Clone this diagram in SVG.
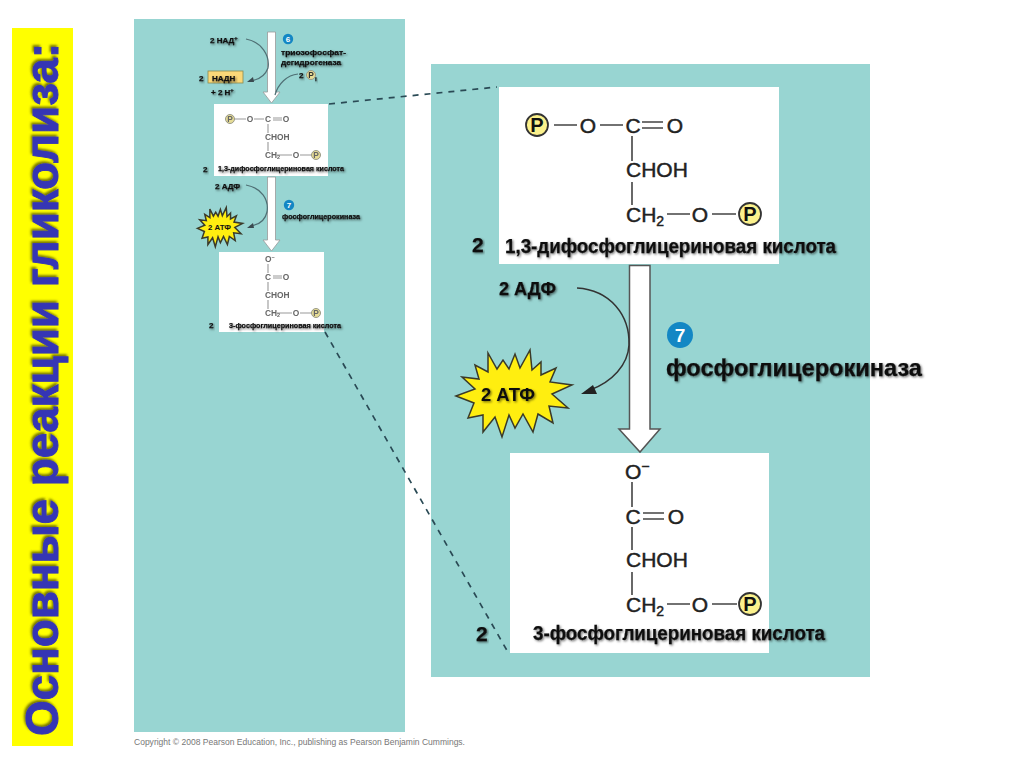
<svg xmlns="http://www.w3.org/2000/svg" width="1024" height="768" viewBox="0 0 1024 768">
<style>
text{font-family:"Liberation Sans",Arial,sans-serif;fill:#111}
.b{font-weight:700}
.lab{font-weight:700;filter:url(#sh);stroke:#111;stroke-width:.25}
.m{font-size:21px;fill:#222;stroke:#222;stroke-width:.45}
.ms{font-size:8.4px;fill:#666;font-weight:700;filter:url(#bl)}
.bond{stroke:#444;stroke-width:1.6;fill:none}
.bonds{stroke:#999;stroke-width:1.1;fill:none}
.p{fill:#fbf18c;stroke:#333;stroke-width:1.8}
.ps{fill:#e6dc96;stroke:#998;stroke-width:1}
.panel{fill:#98d5d2}
.box{fill:#fff}
.ar{fill:#fff;stroke:#555;stroke-width:1.5}
.ars{fill:#fff;stroke:#999;stroke-width:.8}
.cur{fill:none;stroke:#333;stroke-width:1.5}
.curs{fill:none;stroke:#4f6f74;stroke-width:1.2}
.num{fill:#1387c4}
.dash{fill:none;stroke:#2a4a55;stroke-width:1.7;stroke-dasharray:6 6}
.star{fill:#ffee10;stroke:#3a3a2a;stroke-width:1.5;vector-effect:non-scaling-stroke}
</style>
<defs>
<filter id="sh" x="-10%" y="-30%" width="120%" height="170%"><feDropShadow dx="1.2" dy="1.2" stdDeviation="0.9" flood-color="#000" flood-opacity=".55"/></filter>
<filter id="shb" x="-5%" y="-30%" width="110%" height="160%"><feDropShadow dx="2" dy="-1.5" stdDeviation="1.2" flood-color="#555500" flood-opacity=".8"/></filter>
<filter id="bl"><feGaussianBlur stdDeviation=".3"/></filter>
<polygon id="starshape" class="star" points="456,396 475,389 462,377 479,379 475,365 488,372 488,353 497,369 503,360 509,369 515,354 520,368 530,350 532,370 541,362 541,375 556,368 550,382 572,385 552,394 568,408 549,406 553,423 538,414 533,432 523,414 515,428 509,415 502,437 495,417 483,432 483,415 468,418 474,403"/>
</defs>

<g id="title-bar">
<rect x="12" y="28" width="61" height="718" fill="#ffff00"/>
<text class="b" transform="translate(58,736) rotate(-90)" font-size="46" textLength="693" lengthAdjust="spacingAndGlyphs" style="fill:#3535b5;stroke:#3535b5;stroke-width:.9;filter:url(#shb)">Основные реакции гликолиза:</text>
</g>

<g id="panels">
<rect class="panel" x="134" y="19" width="271" height="713"/>
<rect class="panel" x="431" y="64" width="439" height="613"/>
</g>

<g id="small-box-1">
<rect class="box" x="214" y="104" width="114" height="72"/>
<g class="bonds"><path d="M234,119H246M254,119H264M273,118H282M273,120H282M268,124V133M268,142V151M277,155H292M300,155H312"/></g>
<circle class="ps" cx="230" cy="119" r="4.5"/>
<text class="ms" x="230" y="122" text-anchor="middle">P</text>
<text class="ms" x="250" y="122" text-anchor="middle">O</text>
<text class="ms" x="268" y="122" text-anchor="middle">C</text>
<text class="ms" x="286" y="122" text-anchor="middle">O</text>
<text class="ms" x="265" y="140">CHOH</text>
<text class="ms" x="265" y="158">CH<tspan font-size="5.5" dy="1">2</tspan></text>
<text class="ms" x="296" y="158" text-anchor="middle">O</text>
<circle class="ps" cx="316" cy="155" r="4.5"/>
<text class="ms" x="316" y="158" text-anchor="middle">P</text>
<text class="lab" x="218" y="171" font-size="8" textLength="126" lengthAdjust="spacingAndGlyphs">1,3-дифосфоглицериновая кислота</text>
<text class="lab" x="203" y="172" font-size="8">2</text>
</g>

<g id="small-box-2">
<rect class="box" x="219" y="252" width="105" height="80"/>
<g class="bonds"><path d="M268,264V273M273,276H282M273,278H282M268,282V291M268,300V309M277,313H292M300,313H312"/></g>
<text class="ms" x="265" y="262">O<tspan font-size="5.5" dy="-3">−</tspan></text>
<text class="ms" x="268" y="280" text-anchor="middle">C</text>
<text class="ms" x="286" y="280" text-anchor="middle">O</text>
<text class="ms" x="265" y="298">CHOH</text>
<text class="ms" x="265" y="316">CH<tspan font-size="5.5" dy="1">2</tspan></text>
<text class="ms" x="296" y="316" text-anchor="middle">O</text>
<circle class="ps" cx="316" cy="313" r="4.5"/>
<text class="ms" x="316" y="316" text-anchor="middle">P</text>
<text class="lab" x="229" y="328" font-size="8" textLength="112" lengthAdjust="spacingAndGlyphs">3-фосфоглицериновая кислота</text>
<text class="lab" x="209" y="328" font-size="8">2</text>
</g>

<g id="connectors">
<path class="dash" d="M329,104L497,87"/>
<path class="dash" d="M325,332L509,654"/>
<path class="ars" d="M267.500,32H275.500V92H280L271.500,103L263,92H267.500Z"/>
<path class="ars" d="M267.500,177H275.500V240H280L271.500,251L263,240H267.500Z"/>
<path class="curs" d="M246,39C262,42 270,56 268,68C265,76 258,80 250,81"/>
<path fill="#3a4a50" d="M247,82L253,77L254,82Z"/>
<path class="curs" d="M298,74C287,75 278,84 275,95"/>
<path class="curs" d="M246,185C262,188 269,200 267,212C265,221 258,225 250,226"/>
<path fill="#3a4a50" d="M247,228L253,223L254,228Z"/>
<path class="ar" d="M629.500,265.500H650V429H660L640,452L619,429H629.500Z"/>
<path class="cur" d="M577,288C610,290 630,315 629,345C628,365 612,382 590,390"/>
<path fill="#222" d="M581,394L593,385L597,394Z"/>
</g>

<g id="small-reaction-6">
<circle class="num" cx="288" cy="39" r="5.200"/>
<text class="b" x="288" y="42" font-size="8" text-anchor="middle" style="fill:#fff">6</text>
<text class="lab" x="281" y="55" font-size="8" textLength="65" lengthAdjust="spacingAndGlyphs">триозофосфат-</text>
<text class="lab" x="281" y="65" font-size="8" textLength="60" lengthAdjust="spacingAndGlyphs">дегидрогеназа</text>
<text class="lab" x="299" y="78" font-size="8">2</text>
<circle class="ps" cx="311" cy="75" r="4.500"/>
<text class="ms" x="311" y="78" text-anchor="middle" style="fill:#333">P</text>
<text class="lab" x="315" y="81" font-size="6">i</text>
<text class="lab" x="210" y="43" font-size="8">2 НАД<tspan font-size="5.500" dy="-3">+</tspan></text>
<text class="lab" x="199" y="81" font-size="8">2</text>
<rect x="208" y="71" width="35" height="12" fill="#fbd878" stroke="#8a8a50" stroke-width=".8"/>
<text class="lab" x="212" y="81" font-size="8">НАДН</text>
<text class="lab" x="211" y="95" font-size="8">+ 2 Н<tspan font-size="5.500" dy="-3">+</tspan></text>
</g>

<g id="small-reaction-7">
<text class="lab" x="215" y="189" font-size="8">2 АДФ</text>
<use href="#starshape" transform="translate(220,227) scale(.39,.45) translate(-514,-393)"/>
<text class="b" x="208" y="230" font-size="8" textLength="23" lengthAdjust="spacingAndGlyphs">2 АТФ</text>
<circle class="num" cx="289" cy="205" r="5.200"/>
<text class="b" x="289" y="208" font-size="8" text-anchor="middle" style="fill:#fff">7</text>
<text class="lab" x="282" y="219" font-size="8" textLength="78" lengthAdjust="spacingAndGlyphs">фосфоглицерокиназа</text>
</g>

<g id="box-1">
<rect class="box" x="499" y="87" width="280" height="177"/>
<path class="bond" d="M554,125H577M600,125H623M642,122H663M642,128H663M632,136V161M632,182V205M667,214H690M712,214H736"/>
<circle class="p" cx="537" cy="125" r="11"/>
<text class="b" x="537" y="132" font-size="20" text-anchor="middle">P</text>
<text class="m" x="588" y="133" text-anchor="middle">O</text>
<text class="m" x="633" y="133" text-anchor="middle">C</text>
<text class="m" x="675" y="133" text-anchor="middle">O</text>
<text class="m" x="626" y="177">CHOH</text>
<text class="m" x="626" y="222">CH<tspan font-size="14" dy="4">2</tspan></text>
<text class="m" x="700" y="222" text-anchor="middle">O</text>
<circle class="p" cx="750" cy="214" r="11"/>
<text class="b" x="750" y="221" font-size="20" text-anchor="middle">P</text>
<text class="lab" x="505" y="253" font-size="20" textLength="331" lengthAdjust="spacingAndGlyphs">1,3-дифосфоглицериновая кислота</text>
<text class="lab" x="472" y="252" font-size="21">2</text>
</g>

<g id="reaction-7">
<text class="lab" x="499" y="295" font-size="19" textLength="57" lengthAdjust="spacingAndGlyphs">2 АДФ</text>
<use href="#starshape"/>
<text class="b" x="481" y="401" font-size="19" textLength="54" lengthAdjust="spacingAndGlyphs" style="filter:url(#sh)">2 АТФ</text>
<circle class="num" cx="680" cy="335" r="13"/>
<text class="b" x="680" y="342" font-size="19" text-anchor="middle" style="fill:#fff">7</text>
<text class="lab" x="666" y="376" font-size="24" textLength="256" lengthAdjust="spacingAndGlyphs">фосфоглицерокиназа</text>
</g>

<g id="box-2">
<rect class="box" x="510" y="453" width="259" height="200"/>
<path class="bond" d="M632,482V507M643,513H664M643,519H664M632,527V550M632,572V595M667,604H690M712,604H737"/>
<text class="m" x="625" y="479">O<tspan font-size="14" dy="-8">−</tspan></text>
<text class="m" x="633" y="524" text-anchor="middle">C</text>
<text class="m" x="676" y="524" text-anchor="middle">O</text>
<text class="m" x="626" y="567">CHOH</text>
<text class="m" x="626" y="612">CH<tspan font-size="14" dy="4">2</tspan></text>
<text class="m" x="700" y="612" text-anchor="middle">O</text>
<circle class="p" cx="750" cy="604" r="11"/>
<text class="b" x="750" y="611" font-size="20" text-anchor="middle">P</text>
<text class="lab" x="533" y="640" font-size="20" textLength="292" lengthAdjust="spacingAndGlyphs">3-фосфоглицериновая кислота</text>
<text class="lab" x="476" y="641" font-size="21">2</text>
</g>

<text id="copyright" x="134" y="745" font-size="8.200" style="fill:#777" textLength="331" lengthAdjust="spacingAndGlyphs">Copyright © 2008 Pearson Education, Inc., publishing as Pearson Benjamin Cummings.</text>
</svg>
